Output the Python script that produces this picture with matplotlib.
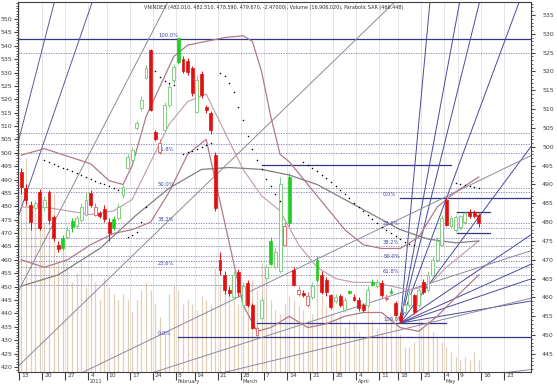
import matplotlib
matplotlib.use("Agg")
import matplotlib.pyplot as plt
from matplotlib.ticker import MultipleLocator
import matplotlib.transforms as mtransforms
import numpy as np

# ---------------- data (right-axis price scale) ----------------
opens = [493.4,489.0,484.6,483.8,488.0,484.0,488.0,481.4,474.0,475.8,
         476.0,480.3,479.0,480.6,482.0,487.7,482.0,482.4,483.5,480.0,
         480.8,481.0,487.2,494.4,496.5,505.0,510.3,518.3,525.7,503.9,
         498.6,504.5,511.0,517.7,528.9,523.3,522.8,520.9,509.2,519.3,
         510.6,509.0,497.8,470.0,466.0,462.0,460.0,466.8,458.0,463.9,
         458.0,450.1,454.6,465.2,475.0,468.0,467.0,474.0,492.0,467.3,
         461.0,461.2,458.0,460.0,470.0,466.0,464.7,460.7,459.0,460.4,
         456.6,461.8,460.0,459.3,458.0,458.0,464.1,463.0,463.9,459.5,
         461.8,458.5,455.0,456.0,458.0,460.6,458.0,464.1,462.0,466.0,
         470.0,474.0,485.9,479.0,478.0,478.7,480.0,482.7,482.7,482.01]
closes = [489.4,486.0,480.0,485.0,478.5,486.0,480.6,475.8,472.9,473.2,
          478.0,478.7,481.0,484.0,486.0,484.6,484.0,481.6,480.8,477.0,
          478.5,484.0,489.3,497.3,499.2,506.3,512.4,520.9,509.8,502.1,
          501.0,511.0,516.0,521.2,522.5,520.1,519.9,514.3,517.7,513.8,
          509.8,504.5,483.8,467.3,462.0,461.2,466.0,461.5,463.0,458.0,
          452.0,451.9,459.3,468.1,469.0,472.0,490.0,479.0,479.8,463.3,
          462.0,460.7,460.5,463.0,464.7,461.5,461.5,457.5,460.0,458.0,
          459.3,461.2,459.3,457.2,456.6,462.0,463.3,464.0,460.7,459.8,
          461.2,455.4,454.0,458.0,461.0,456.2,462.0,461.5,466.0,470.0,
          475.0,481.0,479.3,481.0,481.4,481.5,482.5,481.6,481.6,479.67]
highs = [494.5,490.0,485.5,486.0,488.8,487.0,488.5,482.0,475.0,476.5,
         479.0,481.0,482.0,485.0,488.0,488.5,485.0,483.0,484.5,481.0,
         481.5,485.0,490.0,498.0,500.0,507.0,513.5,521.7,526.0,504.5,
         502.0,512.0,517.0,522.0,529.0,524.0,523.5,521.5,519.0,520.0,
         511.0,509.5,498.5,472.0,467.0,463.0,467.0,467.5,464.0,464.5,
         458.5,452.5,460.0,469.0,476.0,473.0,492.0,480.0,493.0,468.0,
         463.0,462.0,461.5,464.0,471.0,467.0,465.5,461.0,461.0,461.0,
         460.0,462.0,461.0,460.0,458.5,463.0,465.0,465.0,464.5,461.0,
         462.5,459.0,456.0,458.5,462.0,461.0,462.5,465.0,467.0,471.0,
         476.0,482.0,486.4,482.0,482.0,482.0,483.0,483.5,483.2,482.51]
lows = [487.5,484.5,478.0,483.0,478.0,483.0,479.5,475.0,472.0,472.5,
        475.5,477.5,478.5,480.0,481.5,484.0,481.5,481.0,480.0,475.0,
        478.0,480.5,486.5,494.0,496.0,504.5,509.5,518.0,509.5,501.5,
        498.0,504.0,510.5,517.0,522.0,519.5,519.0,513.5,509.0,513.0,
        509.0,503.5,483.0,466.0,461.0,460.5,459.5,460.5,457.5,457.5,
        451.5,449.5,454.0,464.5,468.5,467.5,466.5,478.0,479.0,463.0,
        460.5,460.0,457.5,459.5,464.0,461.0,460.5,457.0,458.5,457.5,
        456.0,461.0,459.0,456.5,456.0,457.5,463.0,462.5,460.0,459.0,
        461.0,455.0,453.2,455.5,457.5,455.5,457.5,461.0,461.5,465.5,
        469.5,474.0,479.0,478.5,477.5,478.0,479.5,481.0,481.0,478.59]
volume = [190,215,170,160,175,150,165,180,110,125,
          110,90,100,110,85,100,90,72,95,85,
          78,72,78,72,60,72,82,90,82,68,
          55,40,78,86,82,68,72,68,62,76,
          72,68,105,88,92,78,72,68,82,88,
          92,82,110,96,72,62,58,68,76,72,
          66,62,52,58,90,76,66,58,52,58,
          45,52,48,40,35,66,52,44,40,52,
          56,66,38,25,25,30,52,44,52,40,
          34,30,25,20,15,12,15,12,20,12]

date_ticks = [0,5,10,15,19,24,29,34,38,43,48,53,58,63,68,73,78,82,87,92,95,100,105]
date_labels = ["13","20","27","4","10","17","24","8","14","21","28","7","14","21","28",
               "4","11","18","25","4","9","16","23"]
month_pos = [15,34,48,73,92]
month_labels = ["2011","February","March","April","May"]

# Fibonacci 1 (low 0% -> peak 100%) and 2 (high 0% -> low 100%)
fib1_hi, fib1_lo = 528.6, 449.5
fib2_hi, fib2_lo = 486.4, 453.2
fib_levels = [0.0, 0.236, 0.382, 0.5, 0.618, 1.0]
extra_dotted = [524.9, 503.7, 500.8, 488.0, 475.8, 471.0, 463.3]
hlines_p = [495.2, 482.7, 477.1]
hlines_a = [52, 94.3, 94.3]
hlines_b = [93, 101.5, 101.5]

# Gann fans: origin bar, origin price, 1x1 price per bar
fan2_i, fan2_p, fan2_unit = 82, 453.2, 1.656
fan0_i, fan0_p, fan0_unit = -17.38, 421.9, 1.187
fan_ratios = [1/8, 1/4, 1/3, 1/2, 1, 2, 3, 4, 8]

# indicator traces (bar index, price)
bb_up_i = [0,5,10,15,19,22,24,27,30,33,36,40,44,48,50,52,54,56,58,62,66,70,74,78,82,86,90,94,99]
bb_up_p = [497.8,499.5,497.5,495.5,491,490,495,508,516,524,527,528,529,529.5,528,520,508,498,496,490,484,478,474,473,473,476,484,488,492]
bb_lo_i = [0,5,10,15,20,24,28,32,36,40,44,48,51,54,58,62,66,70,74,78,82,86,90,94,99]
bb_lo_p = [470,468,470,474,477,478,480,488,498,502,480,458,451,452,455,452,453,455,456,456,452,451,455,460,466]
bb_mid_i = [0,5,10,15,20,24,28,32,36,40,44,48,52,56,60,64,68,72,76,80,84,88,92,96,99]
bb_mid_p = [484,484,483,482,483,486,496,506,512,514,504,494,487,483,474,468,465,464,464,463,462,463,468,472,475]
ma_i = [0,8,17,25,32,39,45,52,58,64,70,76,82,88,94,99]
ma_p = [463,466,473,482,489,494,494.5,494,492.5,490,486,482,478,475.5,474.5,475]
sar_i = (list(range(5,22)) + list(range(23,28)) + list(range(29,34)) + list(range(35,42))
         + list(range(43,57)) + list(range(61,86)) + list(range(94,100)))
sar_p = [496.5,496.0,495.5,495.0,494.5,494.0,493.5,493.0,492.5,492.0,491.5,491.0,490.5,490.0,489.5,489.0,488.5,
         476.0,476.5,477.5,480.0,484.0,
         520.0,518.5,517.5,517.0,516.5,
         498.0,498.5,499.0,499.5,500.0,500.5,501.0,
         519.6,518.8,517.0,514.5,510.5,507.0,503.0,499.5,496.5,494.0,491.5,489.5,487.5,485.5,
         496.0,495.2,494.4,493.5,492.6,491.6,490.6,489.6,488.5,487.4,486.3,485.2,484.1,483.0,
         481.9,480.8,479.7,478.7,477.8,477.0,476.2,475.5,474.8,474.2,473.8,
         490.4,490.2,489.9,489.6,489.3,489.1]

title = "VNINDEX (482.010, 482.510, 478.590, 479.670, -2.47000), Volume (16,906,020), Parabolic SAR (466.448)"

# ---------------- figure ----------------
W, H = 557, 385
fig = plt.figure(figsize=(W/100, H/100), dpi=100)
fig.patch.set_facecolor("white")
L, R, T, B = 18, 531, 2, 372
ax = fig.add_axes([L/W, (H-B)/H, (R-L)/W, (B-T)/H])
XMIN, XMAX = -0.71, 110.3
ax.set_xlim(XMIN, XMAX)
ax.set_ylim(440.2, 538.45)

axv = ax.twinx()
axv.set_ylim(0, 372)
axv.set_axis_off()
axl = ax.twinx()
axl.set_ylim(418.1, 556.35)
for a in (axv, axl):
    a.patch.set_visible(False)
ax.set_zorder(3); ax.patch.set_visible(False)
axv.set_zorder(1); axl.set_zorder(2)

x = np.arange(len(closes))
axv.vlines(x, 0, volume, color="#e2cdb6", lw=0.9)

for t in date_ticks:
    ax.axvline(t - 0.5, color="#e0e0e0", lw=0.6, zorder=0)

navy = "#34348a"
dot_kw = dict(color="#7a7ab0", lw=0.6, ls=(0, (1.5, 1.5)))
lab_kw = dict(fontsize=3.8, color="#4545a5", va="bottom")
for lv in fib_levels:
    p = fib1_lo + lv*(fib1_hi - fib1_lo)
    if lv == 1.0:
        ax.axhline(p, color=navy, lw=0.9)
    elif lv == 0.0:
        ax.plot([34, XMAX], [p, p], color=navy, lw=0.9)
    else:
        ax.axhline(p, **dot_kw)
    ax.text(29.6, p + 0.3, f"{lv*100:.1f}%", **lab_kw)
for lv in fib_levels:
    p = fib2_hi - lv*(fib2_hi - fib2_lo)
    if lv == 0.0:
        ax.plot([82, XMAX], [p, p], color=navy, lw=0.9)
    elif lv == 1.0:
        ax.plot([51, 92], [p, p], color=navy, lw=0.9)
    else:
        ax.axhline(p, **dot_kw)
    ax.text(78.3, p + 0.3, f"{lv*100:.1f}%", **lab_kw)
for p in extra_dotted:
    ax.axhline(p, **dot_kw)
for p, a, b in zip(hlines_p, hlines_a, hlines_b):
    ax.plot([a, b], [p, p], color=navy, lw=0.9)

# gann fans
for r in fan_ratios:
    xx = np.array([fan2_i, 130])
    ax.plot(xx, fan2_p + r*fan2_unit*(xx - fan2_i), color="#4a4a9c", lw=0.7)
for r in fan_ratios:
    xx = np.array([fan0_i, 130])
    col = "#5a5a98" if r >= 3 else "#8a8a9e"
    ax.plot(xx, fan0_p + r*fan0_unit*(xx - fan0_i), color=col, lw=0.7)

# indicators
ax.plot(bb_up_i, bb_up_p, color="#b07a8a", lw=0.9)
ax.plot(bb_lo_i, bb_lo_p, color="#b07a8a", lw=0.9)
ax.plot(bb_mid_i, bb_mid_p, color="#c09aa8", lw=0.8)
ax.plot(ma_i, ma_p, color="#808080", lw=0.9)
ax.scatter(sar_i, sar_p, s=1.2, color="black", zorder=6, linewidths=0)

# candles: filled = close<open, hollow = close>=open; green if close>prev close
for i in range(len(closes)):
    o, c, h, l = opens[i], closes[i], highs[i], lows[i]
    prev = closes[i-1] if i > 0 else o
    green = c > prev
    filled = c < o
    if green:
        col = "#22cc22" if filled else "#80d080"
    else:
        col = "#e01010" if filled else "#e07070"
    lo_, hi_ = min(o, c), max(o, c)
    ax.vlines(i, l, h, color=col, lw=0.7, zorder=5)
    if filled:
        ax.bar(i, max(hi_-lo_, 0.3), bottom=lo_, width=0.62, facecolor=col, edgecolor=col, lw=0.5, zorder=5)
    else:
        ax.bar(i, max(hi_-lo_, 0.3), bottom=lo_, width=0.62, facecolor="white", edgecolor=col, lw=0.7, zorder=5)

# axes styling
for s in ax.spines.values():
    s.set_color("#404040"); s.set_linewidth(0.8)
ax.yaxis.tick_right()
ax.set_yticks(np.arange(445, 536, 5))
ax.yaxis.set_minor_locator(MultipleLocator(1))
ax.tick_params(axis="y", which="major", labelsize=4.5, length=3, colors="#404040", pad=5)
ax.tick_params(axis="y", which="minor", length=1.5, colors="#404040")
axl.yaxis.tick_left()
axl.set_yticks(np.arange(420, 551, 5))
axl.yaxis.set_minor_locator(MultipleLocator(1))
axl.tick_params(axis="y", which="major", labelsize=4.5, length=3, colors="#404040", pad=1)
axl.tick_params(axis="y", which="minor", length=1.5, colors="#404040")
for s in axl.spines.values():
    s.set_visible(False)

ax.set_xticks([t - 0.5 for t in date_ticks])
ax.set_xticklabels(date_labels, ha="left")
ax.tick_params(axis="x", labelsize=4.3, length=6, direction="out", colors="#404040", pad=-5.5)
for lab in ax.get_xticklabels():
    lab.set_transform(lab.get_transform() + mtransforms.ScaledTranslation(2/100, 0, fig.dpi_scale_trans))
for p, m in zip(month_pos, month_labels):
    ax.annotate(m, xy=(p - 0.5, 0), xycoords=("data", "figure pixels"), xytext=(1.5, 0.6),
                textcoords="offset pixels", fontsize=3.6, color="#404040", va="bottom")

fig.text(274/W, 1 - 8/H, title, fontsize=3.55, color="#303030", ha="center", va="center")

fig.savefig("out.png", dpi=100, facecolor="white")
